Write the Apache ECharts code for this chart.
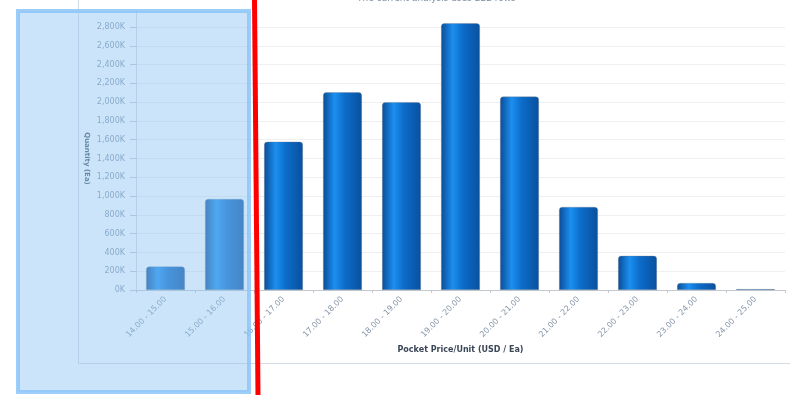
<!DOCTYPE html>
<html>
<head>
<meta charset="utf-8">
<script src="https://cdn.jsdelivr.net/npm/echarts@6/dist/echarts.min.js"></script>
<style>
  html, body { margin: 0; padding: 0; background: #ffffff; }
  #chart { width: 790px; height: 395px; }
</style>
</head>
<body>
<div id="chart"></div>
<script>
// Price bands (USD per unit)
const priceBands = [
  '14.00 - 15.00', '15.00 - 16.00', '16.00 - 17.00', '17.00 - 18.00',
  '18.00 - 19.00', '19.00 - 20.00', '20.00 - 21.00', '21.00 - 22.00',
  '22.00 - 23.00', '23.00 - 24.00', '24.00 - 25.00'
];
// Quantity sold in each band, thousands of units
const quantityK = [250, 970, 1580, 2105, 2000, 2840, 2060, 885, 365, 75, 10];

const titleText = 'The current analysis uses 222 rows';
const xAxisTitle = 'Pocket Price/Unit (USD / Ea)';
const yAxisTitle = 'Quantity (Ea)';

const chart = echarts.init(document.getElementById('chart'), null, { renderer: 'canvas' });

const labelFont = 'DejaVu Sans, Verdana, sans-serif';

const barFill = new echarts.graphic.LinearGradient(0, 0, 1, 0, [
  { offset: 0, color: '#0a4c96' },
  { offset: 0.3, color: '#1b8ff0' },
  { offset: 0.55, color: '#0c6dca' },
  { offset: 1, color: '#09509e' }
]);

chart.setOption({
  animation: false,
  grid: { left: 136, right: 5, top: 27, bottom: 105 },
  xAxis: {
    type: 'category',
    data: priceBands,
    name: xAxisTitle,
    nameLocation: 'middle',
    nameGap: 52,
    nameTextStyle: { fontFamily: labelFont, fontSize: 8, fontWeight: 'bold', color: '#3a4656' },
    axisLine: { lineStyle: { color: '#c4c9cf', width: 1 } },
    axisTick: { show: true, alignWithLabel: false, length: 3, lineStyle: { color: '#c4c9cf' } },
    axisLabel: {
      rotate: 45, interval: 0, margin: 8,
      fontFamily: labelFont, fontSize: 8, color: '#8595a8'
    }
  },
  yAxis: {
    type: 'value',
    min: 0, max: 2800, interval: 200,
    name: yAxisTitle,
    nameLocation: 'middle',
    nameRotate: -90,
    nameGap: 46,
    nameMoveOverlap: false,
    nameTextStyle: { fontFamily: labelFont, fontSize: 7, fontWeight: 'bold', color: '#4a5566' },
    axisLine: { show: true, lineStyle: { color: '#d6dbe0', width: 1 } },
    axisTick: { show: true, length: 6, inside: false, lineStyle: { color: '#c4c9cf' } },
    axisLabel: {
      margin: 11,
      fontFamily: labelFont, fontSize: 8, color: '#8595a8',
      formatter: v => v.toLocaleString('en-US') + 'K'
    },
    splitLine: { show: true, lineStyle: { color: '#efefef', width: 1 } }
  },
  series: [{
    type: 'bar',
    data: quantityK,
    clip: false,
    barCategoryGap: '34%',
    itemStyle: {
      color: barFill,
      borderRadius: [3, 3, 0, 0],
      borderColor: 'rgba(120,130,140,0.55)',
      borderWidth: 0.6
    }
  }],
  graphic: [
    // outer frame of the chart panel
    { type: 'line', z: 0, shape: { x1: 78.5, y1: 0, x2: 78.5, y2: 363.5 }, style: { stroke: '#d5dbe2', lineWidth: 1 } },
    { type: 'line', z: 0, shape: { x1: 78.5, y1: 363.5, x2: 790, y2: 363.5 }, style: { stroke: '#d5dbe2', lineWidth: 1 } },
    // upper extension of the value axis line
    { type: 'line', z: 0, shape: { x1: 136.5, y1: 10, x2: 136.5, y2: 27 }, style: { stroke: '#d6dbe0', lineWidth: 1 } },
    // caption, partly above the page edge
    { type: 'text', left: 357, top: -6, z: 5,
      style: { text: titleText, font: '9px ' + labelFont, fill: '#7d8da0' } },
    // selection box over the first price bands
    { type: 'rect', z: 50, shape: { x: 18, y: 11, width: 231, height: 381 },
      style: { fill: 'rgba(142,196,244,0.46)', stroke: 'rgba(140,196,248,0.85)', lineWidth: 4 } },
    // red divider
    { type: 'line', z: 60, shape: { x1: 254.5, y1: 0, x2: 258, y2: 395 },
      style: { stroke: '#ff0000', lineWidth: 5 } }
  ]
});
</script>
</body>
</html>
